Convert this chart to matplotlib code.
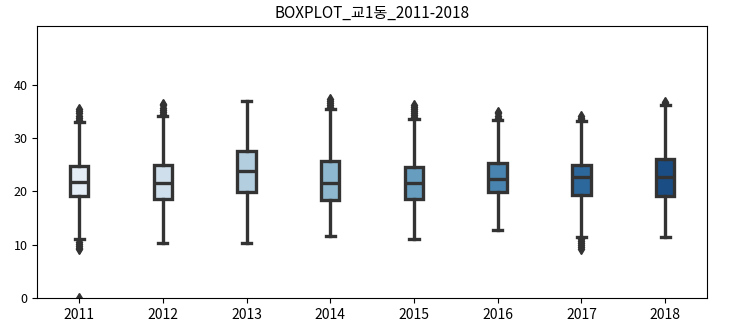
import numpy as np
import matplotlib
matplotlib.use("Agg")
import matplotlib.pyplot as plt
import seaborn as sns

#%%
### Box statistics ###
years = ["2011", "2012", "2013", "2014", "2015", "2016", "2017", "2018"]
q1 = [19.1, 18.6, 19.9, 18.4, 18.6, 19.8, 19.3, 19.1]
med = [21.7, 21.6, 23.8, 21.6, 21.6, 22.3, 22.6, 22.6]
q3 = [24.8, 25.0, 27.6, 25.6, 24.5, 25.4, 25.0, 26.1]
whislo = [11.0, 10.4, 10.4, 11.6, 11.0, 12.7, 11.5, 11.5]
whishi = [33.0, 34.1, 36.9, 35.4, 33.5, 33.4, 33.1, 36.2]
fliers = [
    [33.4, 33.8, 34.2, 34.6, 35.0, 35.4, 10.6, 10.2, 9.8, 9.4, 9.2, 0.0],
    [34.5, 34.9, 35.3, 35.7, 36.1, 36.3],
    [],
    [35.8, 36.2, 36.6, 37.0, 37.3],
    [33.9, 34.3, 34.7, 35.1, 35.5, 35.9, 36.2],
    [33.8, 34.2, 34.6, 34.9],
    [33.5, 33.8, 34.1, 11.1, 10.7, 10.3, 9.9, 9.5, 9.2],
    [36.5, 36.8],
]

#%%
### Build the stats for bxp ###
stats = []
for i, y in enumerate(years):
    stats.append(dict(label=y, q1=q1[i], med=med[i], q3=q3[i],
                      whislo=whislo[i], whishi=whishi[i], fliers=fliers[i]))

colors = sns.color_palette("Blues", len(years))
colors = [sns.desaturate(c, 0.75) for c in colors]
edge = "#333333"

plt.rcParams["font.family"] = ["Noto Sans CJK KR", "DejaVu Sans"]

fig = plt.figure(figsize=(7.45, 3.32), dpi=100)
ax = fig.add_axes([0.05, 0.102, 0.899, 0.82])

lw = 2.4
bp = ax.bxp(stats, positions=np.arange(len(years)), widths=0.22,
            patch_artist=True, showfliers=True,
            boxprops=dict(edgecolor=edge, linewidth=lw),
            medianprops=dict(color=edge, linewidth=lw),
            whiskerprops=dict(color=edge, linewidth=lw),
            capprops=dict(color=edge, linewidth=lw),
            flierprops=dict(marker="d", markerfacecolor=edge, markeredgecolor=edge,
                            markersize=5.5, linestyle="none"))
for patch, c in zip(bp["boxes"], colors):
    patch.set_facecolor(c)

ax.set_xlim(-0.5, len(years) - 0.5)
ax.set_ylim(0, 51)
ax.set_yticks([0, 10, 20, 30, 40])
ax.set_xticks(np.arange(len(years)))
ax.set_xticklabels(years)
ax.tick_params(axis="x", labelsize=10)
ax.tick_params(axis="y", labelsize=9)
ax.set_title("BOXPLOT_교1동_2011-2018", fontsize=11)

fig.savefig("out.png", dpi=100)
